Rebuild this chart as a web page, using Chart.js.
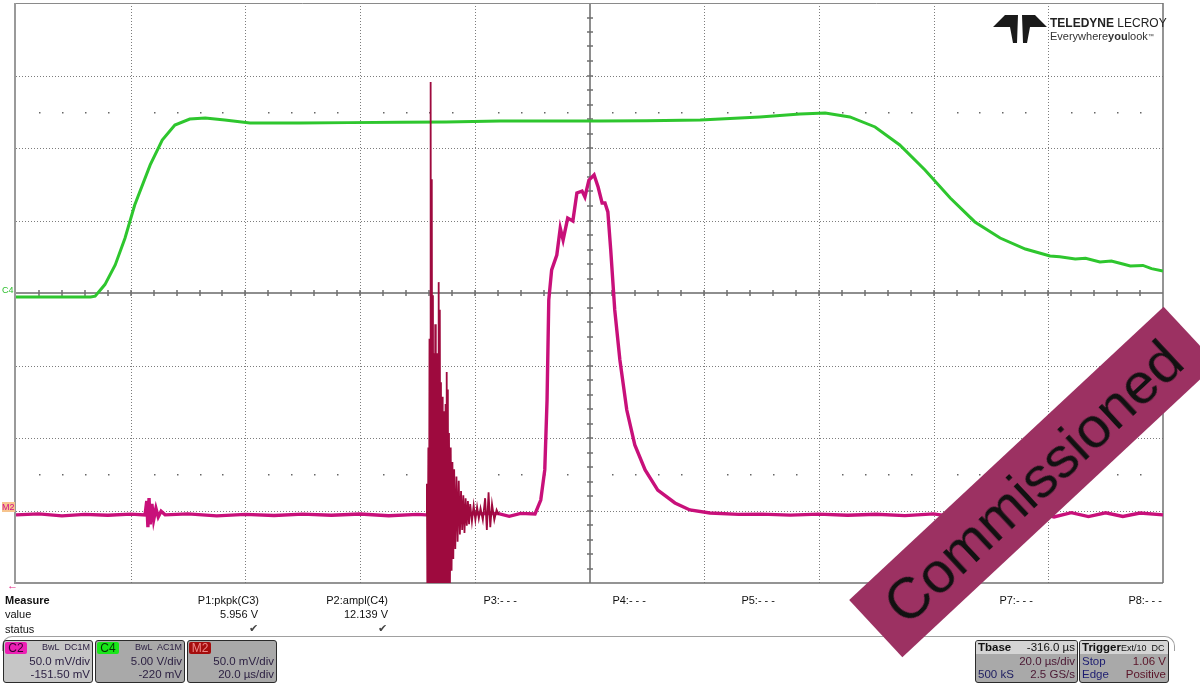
<!DOCTYPE html>
<html>
<head>
<meta charset="utf-8">
<title>Scope capture</title>
<script src="https://cdn.jsdelivr.net/npm/chart.js@4"></script>
<style>
    body { margin: 0; background: #fff; font-family: "Liberation Sans", Arial, sans-serif; }
    #wrap { position: relative; width: 1200px; height: 695px; overflow: hidden; background: #fff; }
    #scope { position: absolute; left: 0; top: 0; }
    .t { position: absolute; font-size: 11px; line-height: 13px; color: #111; white-space: nowrap; }
    .r { text-align: right; }
    .box { position: absolute; top: 640px; height: 41px; border: 1.5px solid #2b2b2b; border-radius: 3px; background: #a9a9a9; overflow: hidden; }
    .box .t { color: #2a1e40; font-size: 11.5px; }
    .tag { position: absolute; left: 1px; top: 1px; width: 22px; height: 12px; border-radius: 2px; font-size: 12px; line-height: 12px; text-align: center; }
    .head { position: absolute; left: 0; top: 0; right: 0; height: 13px; background: #d4d4d4; }
    #stamp { position: absolute; left: 818px; top: 443px; width: 430px; height: 78px; background: #9c3162;
             transform: rotate(-43deg); transform-origin: 50% 50%; color: #111; font-size: 58px; line-height: 78px;
             text-align: center; }
</style>
</head>
<body>
<div id="wrap">
    <canvas id="scope" width="1200" height="695"></canvas>

    <!-- logo -->
    <svg style="position:absolute;left:990px;top:10px" width="60" height="40">
        <polygon points="3,17 15,5 28,5 27,33 23,33 20,17" fill="#1a1a1a"/>
        <polygon points="57,17 45,5 32,5 33,33 37,33 40,17" fill="#1a1a1a"/>
    </svg>
    <div class="t" style="left:1050px;top:17px;font-size:12px;color:#222"><b>TELEDYNE</b> LECROY</div>
    <div class="t" style="left:1050px;top:30px;font-size:11px;color:#333">Everywhere<b>you</b>look<span style="font-size:6px;vertical-align:top">™</span></div>

    <!-- trace markers -->
    <div class="t" style="left:2px;top:284px;font-size:9px;color:#2cbf2c">C4</div>
    <div class="t" style="left:2px;top:502px;font-size:9px;color:#d0108a;background:#f6c48e;line-height:10px">M2</div>
    <div class="t" style="left:7px;top:579px;font-size:11px;color:#e0207f">←</div>

    <!-- measure table -->
    <div class="t" style="left:5px;top:594px"><b>Measure</b></div>
    <div class="t" style="left:5px;top:608px">value</div>
    <div class="t" style="left:5px;top:623px">status</div>
    <div class="t r" style="right:941px;top:594px">P1:pkpk(C3)</div>
    <div class="t r" style="right:942px;top:608px">5.956 V</div>
    <div class="t r" style="right:942px;top:622px;color:#444">✔</div>
    <div class="t r" style="right:812px;top:594px">P2:ampl(C4)</div>
    <div class="t r" style="right:812px;top:608px">12.139 V</div>
    <div class="t r" style="right:813px;top:622px;color:#444">✔</div>
    <div class="t r" style="right:683px;top:594px">P3:- - -</div>
    <div class="t r" style="right:554px;top:594px">P4:- - -</div>
    <div class="t r" style="right:425px;top:594px">P5:- - -</div>
    <div class="t r" style="right:296px;top:594px">P6:- - -</div>
    <div class="t r" style="right:167px;top:594px">P7:- - -</div>
    <div class="t r" style="right:38px;top:594px">P8:- - -</div>

    <div style="position:absolute;left:2px;top:636px;width:1171px;height:14px;border:1px solid #a0a0a0;border-bottom:none;border-radius:10px 10px 0 0"></div>

    <!-- channel boxes -->
    <div class="box" style="left:3px;width:88px;background:#c6c6c6">
        <div class="tag" style="background:#ec1fb4;color:#3a0030">C2</div>
        <div class="t r" style="right:2px;top:1px;font-size:9px;line-height:11px">BwL&nbsp; DC1M</div>
        <div class="t r" style="right:2px;top:14px">50.0 mV/div</div>
        <div class="t r" style="right:2px;top:27px">-151.50 mV</div>
    </div>
    <div class="box" style="left:95px;width:88px">
        <div class="tag" style="background:#19e619;color:#063306">C4</div>
        <div class="t r" style="right:2px;top:1px;font-size:9px;line-height:11px">BwL&nbsp; AC1M</div>
        <div class="t r" style="right:2px;top:14px">5.00 V/div</div>
        <div class="t r" style="right:2px;top:27px">-220 mV</div>
    </div>
    <div class="box" style="left:187px;width:88px">
        <div class="tag" style="background:#a50d0d;color:#e88">M2</div>
        <div class="t r" style="right:2px;top:14px">50.0 mV/div</div>
        <div class="t r" style="right:2px;top:27px">20.0 µs/div</div>
    </div>
    <div class="box" style="left:975px;width:101px">
        <div class="head"></div>
        <div class="t" style="left:2px;top:0px;color:#111"><b>Tbase</b></div>
        <div class="t r" style="right:2px;top:0px;color:#111">-316.0 µs</div>
        <div class="t r" style="right:2px;top:14px;color:#4a1732">20.0 µs/div</div>
        <div class="t" style="left:2px;top:27px;color:#1c1c60">500 kS</div>
        <div class="t r" style="right:2px;top:27px;color:#4a1732">2.5 GS/s</div>
    </div>
    <div class="box" style="left:1079px;width:88px">
        <div class="head"></div>
        <div class="t" style="left:2px;top:0px;color:#111"><b>Trigger</b><span style="font-size:9px">Ext/10&nbsp; DC</span></div>
        <div class="t" style="left:2px;top:14px;color:#1c1c70">Stop</div>
        <div class="t r" style="right:2px;top:14px;color:#5a1428">1.06 V</div>
        <div class="t" style="left:2px;top:27px;color:#1c1c70">Edge</div>
        <div class="t r" style="right:2px;top:27px;color:#5a1428">Positive</div>
    </div>

    <div id="stamp">Commissioned</div>
</div>

<script>
// thời gian (µs từ mép trái màn hình, 20 µs/div)
const timeC4 = [0, 7.7, 13.0, 13.8, 15.5, 17.3, 19.0, 20.7, 23.4, 25.5, 27.7, 30.3, 33.0, 36.4, 40.8, 49.5, 58, 67.0, 75, 84.4,
    93, 101.8, 110, 119.3, 129.7, 136.7, 141.1, 145.4, 149.8, 154.1, 158.5, 162.9, 167.2, 171.6, 176.0, 180.3, 182, 184.7, 186.5, 189.0,
    191, 193, 194.3, 196.5, 198, 200];
// C4 (V)
const voltC4 = [-0.06, -0.06, -0.06, 0.0, 0.8, 2.15, 4.0, 6.29, 9.05, 10.77, 11.8, 12.22, 12.29, 12.15, 11.94, 11.94, 11.97, 12.0, 12.02, 12.08,
    12.08, 12.08, 12.1, 12.15, 12.36, 12.56, 12.63, 12.36, 11.67, 10.43, 8.7, 6.77, 5.12, 4.01, 3.25, 2.77, 2.72, 2.56, 2.62, 2.36,
    2.42, 2.22, 2.08, 2.12, 1.9, 1.74];

const timeC2 = [0, 4, 8, 12, 16, 20, 22.5, 22.8, 23.0, 23.2, 23.4, 23.7, 24.0, 24.4, 24.8, 25.3, 26, 30, 35, 40, 45, 50, 55, 60, 65, 70, 71.5, 84, 86, 88,
    90.5, 91.5, 92.2, 92.6, 92.9, 93.4, 94.3, 94.9, 95.4, 96.2, 97.1, 97.8, 98.7, 99.2, 99.9, 100.8, 101.5, 102.2, 102.7, 103.2,
    103.7, 104.4, 105.3, 106.5, 107.9, 109.7, 111.9, 114.9, 117.5, 121.0,
    126, 130, 135, 140, 145, 150, 155, 160, 163, 166, 169, 172, 175, 178, 181, 184, 187, 190, 193, 196, 200];
// C2 (mV)
const voltC2 = [-1.5, -0.8, -2.2, -1.2, -1.8, -1.0, -1.5, 8, -10, 10, -8, 6, -5, 3, -3, 1, -1.5, -0.8, -2.2, -1.2, -1.9, -1.0, -1.8, -0.9, -2.1, -1.2, -1.5, -0.5, -2.5, -0.5,
    -0.9, 8.7, 29.5, 77.8, 146.7, 167.4, 177.7, 196.3, 188.1, 203.2, 201.2, 220.5, 221.8, 217.7, 229.4, 232.9, 224.6, 213.6, 213.6, 207.4,
    181.2, 139.8, 105.3, 70.8, 46.7, 29.5, 15.6, 6.7, 1.9, -0.2,
    -1.2, -1.0, -1.7, -1.0, -1.8, -1.1, -2.0, -0.8, -2.6, 0.0, -2.8, -0.2, -2.5, 0.2, -2.9, 0.0, -2.7, -0.1, -2.6, -0.2, -1.5];

// M2 (mV) - đoạn nhiễu
const timeM2 = [71.5, 71.65, 71.75, 71.9, 72.0, 72.1, 72.2, 72.3, 72.4, 72.5, 72.6, 72.7, 72.8, 72.9, 73.0, 73.1, 73.2, 73.3, 73.4, 73.5,
    73.6, 73.7, 73.8, 73.9, 74.0, 74.1, 74.2, 74.3, 74.4, 74.5, 74.6, 74.7, 74.8, 74.9, 75.0, 75.1, 75.2, 75.3, 75.4, 75.5,
    75.65, 75.8, 75.95, 76.1, 76.25, 76.4, 76.6, 76.8, 77.0, 77.2, 77.4, 77.6, 77.8, 78.0, 78.2, 78.4, 78.6, 78.8, 79.0, 79.2,
    79.5, 79.8, 80.1, 80.4, 80.7, 81.0, 81.4, 81.8, 82.1, 82.4, 82.7, 83.0, 83.4, 83.8, 84.2];
const voltM2 = [-1.5, 20, -80, 45, -80, 120, -80, 297, -80, 230, -80, 150, -80, 110, -80, 130, -80, 95, -80, 110,
    -80, 159, -80, 140, -80, 90, -80, 80, -80, 70, -80, 60, -80, 75, -80, 97, -80, 85, -70, 55,
    -60, 45, -40, 35, -32, 30, -25, 25, -20, 22, -15, 15, -12, 12, -14, 10, -9, 8, -8, 6,
    -6, 5, -5, 4, -4, 3, -5, 10, -12, 14, -10, 6, -5, 2, -1.5];

// màn hình: 10 div ngang, 8 div dọc
const timePerDiv = 20;
const c4PerDiv = 5, c4Offset = -0.22;
const c2PerDiv = 50, c2Offset = -151.5;

function toPoints(xs, ys) {
    return xs.map((x, i) => ({ x: x, y: ys[i] }));
}

// vẽ lưới kiểu máy hiện sóng
const scopeGrid = {
    id: 'scopeGrid',
    beforeDatasetsDraw(chart) {
        const { ctx, chartArea: a, scales } = chart;
        const gx = scales.x, gy = scales.yd;
        ctx.save();
        ctx.lineWidth = 1;
        ctx.strokeStyle = '#7c7c7c';
        ctx.setLineDash([1, 2]);
        for (let i = 1; i < 10; i++) {
            if (i === 5) continue;
            const px = Math.round(gx.getPixelForValue(i * timePerDiv)) + 0.5;
            ctx.beginPath(); ctx.moveTo(px, a.top); ctx.lineTo(px, a.bottom); ctx.stroke();
        }
        for (let j = -3; j <= 3; j++) {
            if (j === 0) continue;
            const py = Math.round(gy.getPixelForValue(j)) + 0.5;
            ctx.beginPath(); ctx.moveTo(a.left, py); ctx.lineTo(a.right, py); ctx.stroke();
        }
        ctx.setLineDash([]);

        // trục giữa
        ctx.strokeStyle = '#8e8e8e';
        ctx.lineWidth = 2;
        const cx = Math.round(gx.getPixelForValue(5 * timePerDiv));
        const cy = Math.round(gy.getPixelForValue(0));
        ctx.beginPath(); ctx.moveTo(a.left, cy); ctx.lineTo(a.right, cy); ctx.stroke();
        ctx.beginPath(); ctx.moveTo(cx, a.top); ctx.lineTo(cx, a.bottom); ctx.stroke();

        ctx.lineWidth = 1.5;
        ctx.strokeStyle = '#6e6e6e';
        for (let k = 1; k < 50; k++) {
            const px = Math.round(gx.getPixelForValue(k * timePerDiv / 5));
            ctx.beginPath(); ctx.moveTo(px, cy - 3); ctx.lineTo(px, cy + 3); ctx.stroke();
        }
        for (let k = -19; k < 20; k++) {
            const py = Math.round(gy.getPixelForValue(k / 5));
            ctx.beginPath(); ctx.moveTo(cx - 3, py); ctx.lineTo(cx + 3, py); ctx.stroke();
        }
        // chấm phụ
        ctx.fillStyle = '#666';
        for (const row of [-2.5, 2.5]) {
            const py = Math.round(gy.getPixelForValue(row));
            for (let k = 1; k < 50; k++) {
                if (k % 5 === 0) continue;
                const px = Math.round(gx.getPixelForValue(k * timePerDiv / 5));
                ctx.fillRect(px, py, 1.5, 1.5);
            }
        }

        // khung
        ctx.strokeStyle = '#9a9a9a';
        ctx.lineWidth = 2;
        ctx.beginPath(); ctx.moveTo(a.left - 1, a.top); ctx.lineTo(a.left - 1, a.bottom + 1); ctx.stroke();
        ctx.lineWidth = 1;
        ctx.strokeStyle = '#8a8a8a';
        ctx.beginPath(); ctx.moveTo(a.left, a.top + 0.5); ctx.lineTo(a.right, a.top + 0.5); ctx.stroke();
        ctx.strokeStyle = '#707070';
        ctx.lineWidth = 1.5;
        ctx.beginPath(); ctx.moveTo(a.left, a.bottom); ctx.lineTo(a.right, a.bottom); ctx.stroke();
        ctx.beginPath(); ctx.moveTo(a.right, a.top); ctx.lineTo(a.right, a.bottom); ctx.stroke();
        ctx.restore();
    }
};

const ctx = document.getElementById('scope').getContext('2d');
const scopeChart = new Chart(ctx, {
    type: 'line',
    data: {
        datasets: [{
            label: 'M2',
            data: toPoints(timeM2, voltM2),
            yAxisID: 'y2',
            borderColor: '#9e0a3e',
            borderWidth: 1.8,
            order: 0,
        }, {
            label: 'C2',
            data: toPoints(timeC2, voltC2),
            yAxisID: 'y2',
            borderColor: '#c8107a',
            borderWidth: 3.4,
            order: 1,
        }, {
            label: 'C4',
            data: toPoints(timeC4, voltC4),
            yAxisID: 'y4',
            borderColor: '#2ec62e',
            borderWidth: 3,
            order: 2,
        }],
    },
    options: {
        responsive: false,
        devicePixelRatio: 1,
        animation: false,
        events: [],
        layout: { padding: { left: 16, top: 3, right: 37, bottom: 112 } },
        elements: { point: { radius: 0 }, line: { tension: 0 } },
        datasets: { line: { clip: 0 } },
        plugins: { legend: { display: false }, tooltip: { enabled: false } },
        scales: {
            x: { type: 'linear', display: false, min: 0, max: 10 * timePerDiv },
            y4: { type: 'linear', display: false, min: -4 * c4PerDiv - c4Offset, max: 4 * c4PerDiv - c4Offset },
            y2: { type: 'linear', display: false, min: -4 * c2PerDiv - c2Offset, max: 4 * c2PerDiv - c2Offset },
            yd: { type: 'linear', display: false, min: -4, max: 4 },
        }
    },
    plugins: [scopeGrid]
});
</script>
</body>
</html>
